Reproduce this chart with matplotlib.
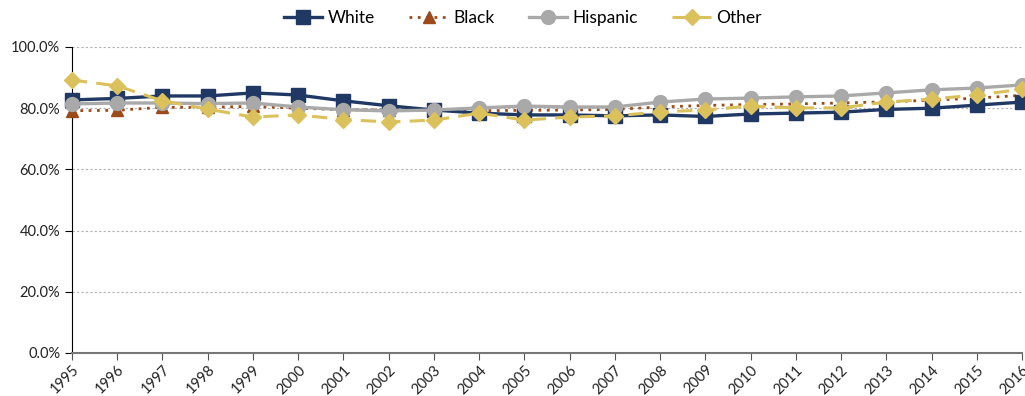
import matplotlib
matplotlib.use("Agg")
import matplotlib.pyplot as plt
from matplotlib.ticker import PercentFormatter

plt.rcParams['font.family'] = ['Lato', 'DejaVu Sans']

years = list(range(1995, 2017))
white = [82.7, 83.2, 84.0, 84.0, 85.0, 84.3, 82.4, 80.8, 79.4, 78.4, 77.8, 77.8, 77.5, 77.8, 77.3, 78.1, 78.4, 78.7, 79.6, 80.0, 81.0, 82.0]
black = [79.2, 79.3, 80.3, 80.3, 80.6, 80.0, 79.5, 79.4, 79.4, 79.2, 79.3, 79.4, 79.6, 80.4, 80.9, 81.2, 81.4, 81.7, 82.1, 82.6, 83.3, 84.2]
hispanic = [81.4, 81.7, 81.7, 81.5, 81.7, 80.4, 79.5, 79.1, 79.4, 80.1, 80.7, 80.4, 80.4, 82.0, 83.0, 83.3, 83.7, 84.0, 85.0, 86.0, 86.6, 87.6]
other = [89.2, 87.3, 82.4, 79.7, 77.1, 77.8, 76.3, 75.5, 76.1, 78.4, 76.1, 77.1, 77.5, 78.8, 79.4, 80.7, 80.1, 80.1, 82.0, 83.0, 84.3, 86.2]

fig = plt.figure(figsize=(10.25, 3.96), dpi=100)
ax = fig.add_axes([72 / 1025, 43 / 396, 950 / 1025, 306 / 396])

ax.plot(years, white, color='#1F3864', lw=2.4, marker='s', ms=10, label='White', zorder=4, clip_on=False)
ax.plot(years, black, color='#9C4A1A', lw=2.0, ls=(0, (1, 2)), marker='^', ms=9, label='Black', zorder=3, clip_on=False)
ax.plot(years, hispanic, color='#A9A9A9', lw=2.4, marker='o', ms=10, label='Hispanic', zorder=5, clip_on=False)
ax.plot(years, other, color='#DBC15B', lw=2.2, ls=(0, (5, 3)), marker='D', ms=8, label='Other', zorder=6, clip_on=False)

ax.set_xlim(1995, 2016)
ax.set_ylim(0, 100)
ax.set_yticks([0, 20, 40, 60, 80, 100])
ax.yaxis.set_major_formatter(PercentFormatter(decimals=1))
ax.set_xticks(years)
ax.set_xticklabels([str(y) for y in years], rotation=45, ha='right', rotation_mode='anchor')
ax.tick_params(axis='both', labelsize=10.5, colors='#222222')
ax.tick_params(axis='x', length=5, color='#555555', pad=2)
ax.tick_params(axis='y', length=5, color='black')

ax.grid(axis='y', ls=(0, (2, 2)), color='#B0B0B0', lw=0.8)
for s in ['top', 'right']:
    ax.spines[s].set_visible(False)
ax.spines['left'].set_color('black')
ax.spines['bottom'].set_color('#777777')
ax.spines['bottom'].set_linewidth(1.5)
ax.set_axisbelow(True)

fig.legend(loc='upper center', bbox_to_anchor=(0.51, 1.015), ncol=4, frameon=False,
           fontsize=12.5, handlelength=2.2, columnspacing=2.0, handletextpad=0.3)

fig.savefig('out.png', dpi=100)
